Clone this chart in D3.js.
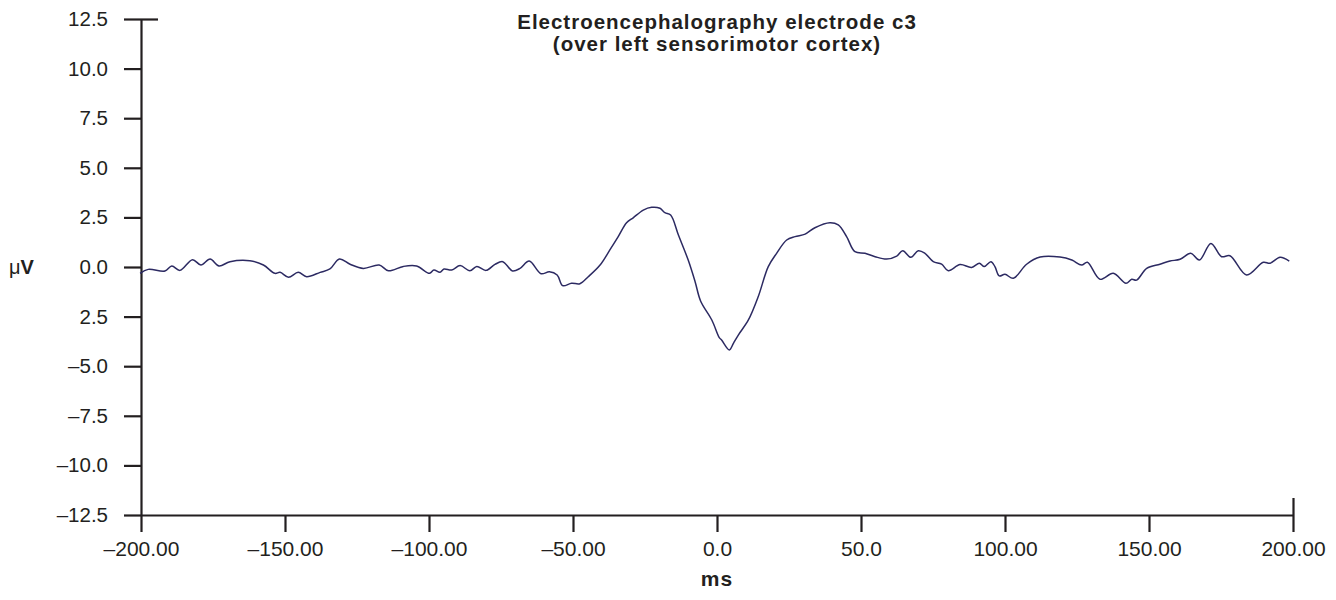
<!DOCTYPE html>
<html>
<head>
<meta charset="utf-8">
<script src="https://cdn.jsdelivr.net/npm/d3@7"></script>
<style>
  html, body { margin: 0; padding: 0; background: #fff; }
  svg { display: block; }
  text { font-family: "Liberation Sans", Arial, Helvetica, sans-serif; fill: #231f20; }
</style>
</head>
<body>
<svg id="chart" width="1336" height="600"></svg>
<script>
// Averaged EEG trace at electrode C3, time (ms) vs amplitude (µV)
const timeMs = [
  -200.3, -197.5, -191.7, -189.3, -186.5, -182.1, -179.2, -176.0, -172.9, -169.1,
  -162.2, -157.5, -153.5, -151.7, -148.8, -145.4, -142.5, -137.8, -134.4, -131.1,
  -127.4, -122.8, -117.3, -114.1, -108.9, -104.3, -99.8, -98.3, -96.2, -94.8,
  -92.1, -89.2, -85.8, -83.4, -80.2, -77.1, -74.4, -71.0, -68.4, -65.2,
  -61.1, -58.2, -55.5, -53.6, -50.5, -47.6, -44.7, -40.6, -37.2, -34.3,
  -31.4, -29.1, -25.6, -22.7, -19.8, -18.1, -16.1, -13.4, -10.0, -7.6,
  -5.7, -1.8, 0.8, 1.6, 4.3, 5.7, 7.4, 10.9, 14.3, 17.8,
  20.7, 24.2, 27.1, 30.6, 34.0, 39.2, 42.1, 45.0, 47.9, 51.4,
  54.9, 58.9, 62.4, 64.5, 67.3, 69.9, 72.2, 75.1, 78.0, 80.3,
  84.4, 88.4, 91.1, 92.8, 95.1, 96.5, 98.0, 100.0, 102.9, 107.5,
  112.2, 119.1, 123.2, 126.6, 128.6, 133.0, 137.6, 142.0, 144.0, 145.7,
  149.2, 153.8, 157.3, 160.8, 164.5, 167.5, 171.5, 175.2, 178.1, 183.9,
  189.7, 192.0, 195.5, 198.7
];
const amplitudeUv = [
  -0.32, -0.12, -0.20, 0.05, -0.17, 0.37, 0.10, 0.40, 0.05, 0.27,
  0.32, 0.10, -0.32, -0.27, -0.52, -0.27, -0.49, -0.27, -0.10, 0.40,
  0.14, -0.07, 0.10, -0.19, 0.03, 0.05, -0.32, -0.15, -0.27, -0.10,
  -0.15, 0.07, -0.19, 0.03, -0.17, 0.13, 0.27, -0.20, -0.07, 0.30,
  -0.34, -0.24, -0.40, -0.94, -0.82, -0.84, -0.49, 0.10, 0.86, 1.53,
  2.23, 2.48, 2.87, 3.01, 2.96, 2.74, 2.62, 1.61, 0.35, -0.74,
  -1.71, -2.67, -3.56, -3.68, -4.18, -3.85, -3.43, -2.67, -1.50, 0.02,
  0.69, 1.36, 1.53, 1.66, 1.98, 2.23, 2.12, 1.53, 0.77, 0.69,
  0.52, 0.40, 0.55, 0.82, 0.49, 0.82, 0.69, 0.27, 0.14, -0.19,
  0.12, -0.02, 0.19, 0.02, 0.27, 0.02, -0.45, -0.37, -0.57, 0.14,
  0.50, 0.50, 0.35, 0.10, 0.24, -0.62, -0.32, -0.82, -0.62, -0.66,
  -0.07, 0.14, 0.30, 0.39, 0.69, 0.35, 1.19, 0.52, 0.57, -0.40,
  0.24, 0.19, 0.49, 0.30
];

const yTickValues = [12.5, 10, 7.5, 5, 2.5, 0, -2.5, -5, -7.5, -10, -12.5];
const yTickLabels = ["12.5", "10.0", "7.5", "5.0", "2.5", "0.0", "2.5", "\u20135.0", "\u20137.5", "\u201310.0", "\u201312.5"];
const xTickValues = [-200, -150, -100, -50, 0, 50, 100, 150, 200];
const xTickLabels = ["\u2013200.00", "\u2013150.00", "\u2013100.00", "\u201350.00", "0.0", "50.0", "100.00", "150.00", "200.00"];

const titleLines = ["Electroencephalography electrode c3", "(over left sensorimotor cortex)"];
const xTitle = "ms";

const svg = d3.select("#chart");
const plotLeft = 141, plotRight = 1293, plotTop = 19, plotBottom = 515;
const tick = 17;
const axisColor = "#231f20";

const x = d3.scaleLinear().domain([-200, 200]).range([plotLeft, plotRight]);
const y = d3.scaleLinear().domain([-12.5, 12.5]).range([plotBottom, plotTop]);

// y axis
const yAxis = svg.append("g")
  .attr("transform", `translate(${plotLeft},0)`)
  .call(d3.axisLeft(y)
    .tickValues(yTickValues)
    .tickSize(tick)
    .tickSizeOuter(0)
    .tickPadding(16)
    .tickFormat((d, i) => yTickLabels[i]));

// x axis
const xAxis = svg.append("g")
  .attr("transform", `translate(0,${plotBottom})`)
  .call(d3.axisBottom(x)
    .tickValues(xTickValues)
    .tickSize(tick)
    .tickSizeOuter(0)
    .tickPadding(9)
    .tickFormat((d, i) => xTickLabels[i]));

// end caps: top of the y axis and right end of the x axis cross their line
svg.append("g")
  .attr("transform", `translate(${plotLeft},0)`)
  .call(d3.axisLeft(y).tickValues([12.5]).tickSize(-tick).tickSizeOuter(0).tickFormat(""))
  .call(g => g.select(".domain").remove());
svg.append("g")
  .attr("transform", `translate(0,${plotBottom})`)
  .call(d3.axisBottom(x).tickValues([200]).tickSize(-tick).tickSizeOuter(0).tickFormat(""))
  .call(g => g.select(".domain").remove());

svg.selectAll(".domain, .tick line")
  .attr("stroke", axisColor)
  .attr("stroke-width", 2.2);

yAxis.selectAll(".tick text")
  .style("font-size", "20.5px")
  .attr("fill", axisColor);
xAxis.selectAll(".tick text")
  .style("font-size", "21px")
  .attr("fill", axisColor);

// EEG trace
const series = timeMs.map((t, i) => ({ t, v: amplitudeUv[i] }));
const line = d3.line()
  .x(d => x(d.t))
  .y(d => y(d.v))
  .curve(d3.curveCatmullRom.alpha(0.5));

svg.append("path")
  .datum(series)
  .attr("fill", "none")
  .attr("stroke", "#2c2a62")
  .attr("stroke-width", 1.5)
  .attr("stroke-linejoin", "round")
  .attr("d", line);

// title, two lines
titleLines.forEach((s, i) => {
  svg.append("text")
    .attr("x", 717)
    .attr("y", 28.5 + i * 22)
    .attr("text-anchor", "middle")
    .style("font-size", "20.5px")
    .style("letter-spacing", "1px")
    .style("font-weight", "bold")
    .text(s);
});

// axis titles
svg.append("text")
  .attr("x", 717)
  .attr("y", 586)
  .attr("text-anchor", "middle")
  .style("font-size", "21px")
  .style("letter-spacing", "1px")
  .style("font-weight", "bold")
  .text(xTitle);

const yTitle = svg.append("text")
  .attr("x", 9)
  .attr("y", 274)
  .style("font-size", "20px");
yTitle.append("tspan").text("\u03bc");
yTitle.append("tspan").style("font-weight", "bold").text("V");
</script>
</body>
</html>
